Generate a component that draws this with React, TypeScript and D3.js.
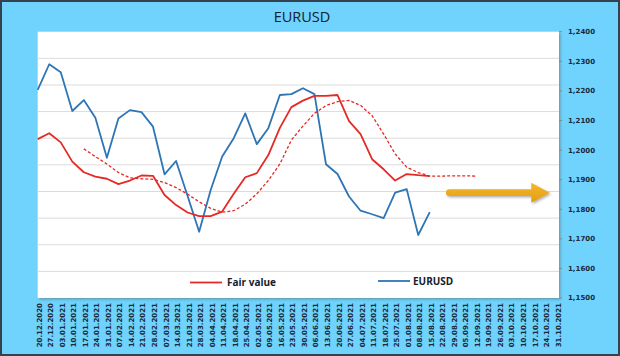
import React from "react";
import * as d3 from "d3";

const dates = [
  "20.12.2020","27.12.2020","03.01.2021","10.01.2021","17.01.2021","24.01.2021","31.01.2021",
  "07.02.2021","14.02.2021","21.02.2021","28.02.2021","07.03.2021","14.03.2021","21.03.2021","28.03.2021",
  "04.04.2021","11.04.2021","18.04.2021","25.04.2021","02.05.2021","09.05.2021","16.05.2021","23.05.2021","30.05.2021",
  "06.06.2021","13.06.2021","20.06.2021","27.06.2021","04.07.2021","11.07.2021","18.07.2021","25.07.2021",
  "01.08.2021","08.08.2021","15.08.2021","22.08.2021","29.08.2021","05.09.2021","12.09.2021","19.09.2021","26.09.2021",
  "03.10.2021","10.10.2021","17.10.2021","24.10.2021","31.10.2021",
];

const eurusd: (number | null)[] = [
  1.2203, 1.2290, 1.2263, 1.2132, 1.2169, 1.2109, 1.1974, 1.2107, 1.2135, 1.2128, 1.2079,
  1.1918, 1.1963, 1.1845, 1.1724, 1.1865, 1.1978, 1.2040, 1.2124, 1.2020, 1.2074, 1.2186,
  1.2189, 1.2209, 1.2189, 1.1952, 1.1919, 1.1843, 1.1795, 1.1783, 1.1770, 1.1856, 1.1868,
  1.1713, 1.1790,
];

const fairValue: (number | null)[] = [
  1.2037, 1.2057, 1.2026, 1.1961, 1.1925, 1.1910, 1.1903, 1.1885, 1.1897, 1.1914, 1.1913,
  1.1848, 1.1814, 1.1789, 1.1777, 1.1777, 1.1792, 1.1852, 1.1908, 1.1922, 1.1983, 1.2075,
  1.2145, 1.2167, 1.2183, 1.2183, 1.2186, 1.2098, 1.2054, 1.1969, 1.1935, 1.1897, 1.1919,
  1.1915, 1.1912,
];

const fairValueAvg: (number | null)[] = [
  null, null, null, null, 1.2004, 1.1978, 1.1953, 1.1924, 1.1906, 1.1903, 1.1901,
  1.1890, 1.1873, 1.1851, 1.1825, 1.1803, 1.1790, 1.1795, 1.1817, 1.1852, 1.1897, 1.1953,
  1.2034, 1.2081, 1.2124, 1.2150, 1.2164, 1.2168, 1.2151, 1.2116, 1.2054, 1.1987, 1.1942,
  1.1924, 1.1912, 1.1912, 1.1913, 1.1913, 1.1912,
];

const yTicks = [1.15, 1.16, 1.17, 1.18, 1.19, 1.2, 1.21, 1.22, 1.23, 1.24];
const gridSteps = [0, 1, 2, 3, 4, 5, 6, 7, 8, 9, 10];

const W = 620, H = 356;
const PL = 37.7, PR = 559, PT = 31.7, PB = 298;

export default function App() {
  const x = d3.scalePoint<string>().domain(dates).range([PL, 556.6]);
  const y = d3.scaleLinear().domain([1.15, 1.24]).range([PB, PT]);
  const g = d3.scaleLinear().domain([0, 10]).range([PB, PT]);

  const mk = (arr: (number | null)[]) =>
    d3
      .line<number | null>()
      .defined((d) => d != null)
      .x((_, i) => x(dates[i]) as number)
      .y((d) => y(d as number))(arr) || "";

  const xi = (i: number) => PL + ((556.6 - PL) / (dates.length - 1)) * i;
  const ay = y(1.1856);
  const ax0 = xi(35.7), ax1 = xi(42.8), ax2 = xi(44.4);
  const sw = 3.4, hh = 10;
  const arrowPath =
    `M${ax0},${ay - sw} L${ax1},${ay - sw} L${ax1},${ay - hh} L${ax2},${ay} L${ax1},${ay + hh} L${ax1},${ay + sw} L${ax0},${ay + sw} ` +
    `A${sw},${sw} 0 0 1 ${ax0},${ay - sw} Z`;

  const fmt = (v: number) => v.toFixed(4).replace(".", ",");

  return (
    <svg width={W} height={H} style={{ position: "absolute", left: 0, top: 0 }}>
      <defs>
        <filter id="sh" x="-10%" y="-10%" width="130%" height="140%">
          <feDropShadow dx="1.5" dy="1.5" stdDeviation="1" floodColor="#555" floodOpacity="0.45" />
        </filter>
        <linearGradient id="ag" x1="0" y1="0" x2="0" y2="1">
          <stop offset="0" stopColor="#F6B62A" />
          <stop offset="1" stopColor="#E39E12" />
        </linearGradient>
      </defs>
      <rect x={0} y={0} width={W} height={H} fill="#6FD3FD" />
      <rect x={1} y={1} width={W - 2} height={H - 2} fill="none" stroke="#33424f" strokeWidth={2} />
      <text x={302} y={22} textAnchor="middle" fontFamily="Open Sans" fontSize={14.5} fill="#16202c">
        EURUSD
      </text>

      <rect x={PL} y={PT} width={PR - PL} height={PB - PT} fill="#fff" filter="url(#sh)" />
      {gridSteps.slice(1, 10).map((s) => (
        <line key={s} x1={PL} x2={PR} y1={g(s)} y2={g(s)} stroke="#dcdcdc" strokeWidth={1} />
      ))}

      {yTicks.map((t) => (
        <g key={t}>
          <line x1={PR} x2={PR + 3} y1={y(t)} y2={y(t)} stroke="#888" />
          <text x={568} y={y(t)} dy="0.35em" fontFamily="DejaVu Sans" fontWeight="bold" fontSize={7} fill="#1b2a3a">
            {fmt(t)}
          </text>
        </g>
      ))}

      {dates.map((d) => (
        <text
          key={d}
          transform={`translate(${(x(d) as number) + 4},${303}) rotate(-90)`}
          textAnchor="end"
          fontFamily="DejaVu Sans"
          fontWeight="bold"
          fontSize={7}
          fill="#1b2a3a"
        >
          {d}
        </text>
      ))}

      <path d={mk(eurusd)} fill="none" stroke="#2E75B6" strokeWidth={1.8} strokeLinejoin="round" />
      <path d={mk(fairValue)} fill="none" stroke="#E52A25" strokeWidth={1.8} strokeLinejoin="round" />
      <path d={mk(fairValueAvg)} fill="none" stroke="#E52A25" strokeWidth={1.3} strokeDasharray="3,2" />

      <path d={arrowPath} fill="url(#ag)" filter="url(#sh)" />

      <line x1={190} x2={222} y1={282.5} y2={282.5} stroke="#E52A25" strokeWidth={1.8} />
      <text x={227} y={282.5} dy="0.35em" fontFamily="Open Sans" fontWeight="bold" fontSize={10} fill="#16202c">
        Fair value
      </text>
      <line x1={378} x2={410} y1={281} y2={281} stroke="#2E75B6" strokeWidth={1.8} />
      <text x={413} y={281} dy="0.35em" fontFamily="Open Sans" fontWeight="bold" fontSize={10} fill="#16202c">
        EURUSD
      </text>
    </svg>
  );
}
